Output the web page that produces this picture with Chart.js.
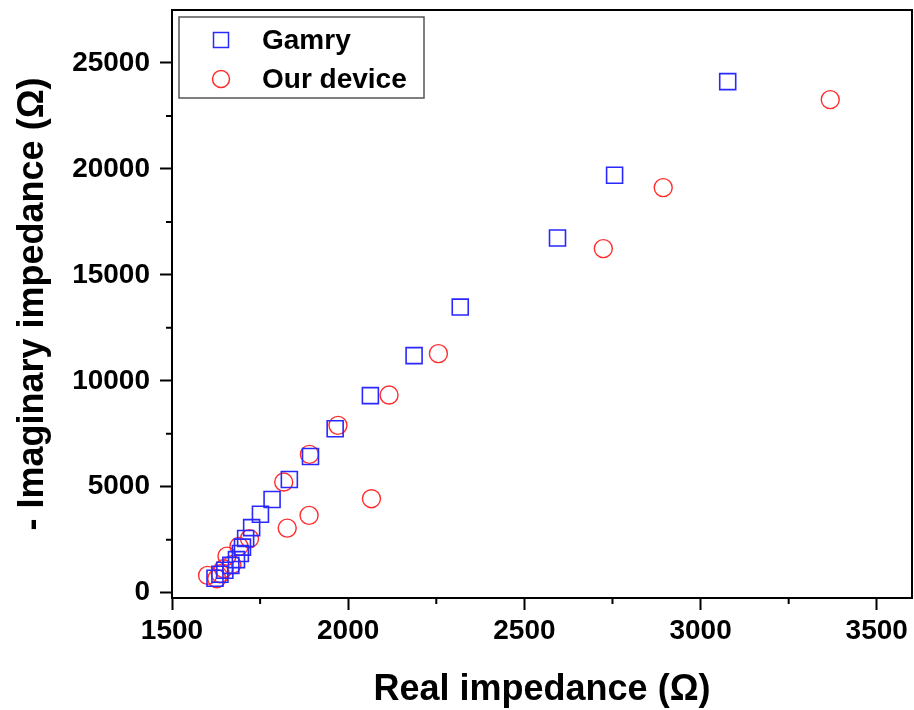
<!DOCTYPE html>
<html>
<head>
<meta charset="utf-8">
<script src="https://cdn.jsdelivr.net/npm/chart.js@4.4.1/dist/chart.umd.min.js"></script>
<style>
  html, body { margin: 0; padding: 0; background: #fff; }
  canvas { display: block; }
</style>
</head>
<body>
<canvas id="myChart" width="914" height="710"></canvas>
<script>
// values
const seriesNames = ["Gamry", "Our device"];
const gamryReal = [1622, 1636, 1650, 1667, 1683, 1694, 1700, 1709, 1726, 1751, 1784, 1833, 1893, 1963, 2063, 2187, 2318, 2594, 2756, 3077];
const gamryImag = [680, 870, 1060, 1290, 1560, 1850, 2150, 2560, 3070, 3700, 4400, 5340, 6430, 7740, 9300, 11190, 13480, 16740, 19700, 24120];
const deviceReal = [1601, 1627, 1637, 1646, 1656, 1670, 1690, 1720, 1817, 1827, 1889, 1890, 1971, 2066, 2116, 2256, 2724, 2894, 3368];
const deviceImag = [817, 661, 897, 1133, 1728, 1322, 2186, 2549, 5221, 3049, 3649, 6528, 7897, 4437, 9328, 11282, 16239, 19118, 23272];
const xTicks = [1500, 2000, 2500, 3000, 3500];
const yTicks = [0, 5000, 10000, 15000, 20000, 25000];

const font = "'Liberation Sans', Arial, sans-serif";
const blue = "rgb(40, 40, 255)";
const red = "rgb(255, 45, 45)";

function toPoints(xs, ys) {
  return xs.map((x, i) => ({ x: x, y: ys[i] }));
}

function midpoints(ticks) {
  const out = [];
  for (let i = 0; i < ticks.length; i++) {
    out.push(ticks[i] + (ticks[1] - ticks[0]) / 2);
  }
  return out;
}

// frame round the plot, minor ticks and the boxed legend
const framePlugin = {
  id: "frame",
  afterDraw(chart) {
    const ctx = chart.ctx;
    const a = chart.chartArea;
    const xs = chart.scales.x;
    const ys = chart.scales.y;
    ctx.save();
    ctx.strokeStyle = "#000";
    ctx.lineWidth = 2;
    ctx.strokeRect(a.left, a.top, a.right - a.left, a.bottom - a.top);

    ctx.beginPath();
    midpoints(xTicks).forEach((v) => {
      const px = xs.getPixelForValue(v);
      if (px < a.right - 2) {
        ctx.moveTo(px, a.bottom);
        ctx.lineTo(px, a.bottom + 6);
      }
    });
    midpoints(yTicks).forEach((v) => {
      const py = ys.getPixelForValue(v);
      if (py > a.top + 2) {
        ctx.moveTo(a.left, py);
        ctx.lineTo(a.left - 6, py);
      }
    });
    ctx.stroke();

    // legend
    const box = { x: 179, y: 17, w: 245, h: 81 };
    ctx.fillStyle = "#fff";
    ctx.fillRect(box.x, box.y, box.w, box.h);
    ctx.strokeStyle = "#555";
    ctx.lineWidth = 1.5;
    ctx.strokeRect(box.x, box.y, box.w, box.h);
    ctx.font = "bold 28px " + font;
    ctx.textBaseline = "middle";
    ctx.textAlign = "left";
    chart.data.datasets.forEach((ds, i) => {
      const cy = 40 + i * 39;
      const cx = 221;
      ctx.strokeStyle = ds.borderColor;
      ctx.lineWidth = 1.5;
      ctx.beginPath();
      if (ds.pointStyle === "rect") {
        ctx.rect(cx - 7.5, cy - 7.5, 15, 15);
      } else {
        ctx.arc(cx, cy, 8.5, 0, Math.PI * 2);
      }
      ctx.stroke();
      ctx.fillStyle = "#000";
      ctx.fillText(ds.label, 262, cy + 1);
    });
    ctx.restore();
  },
};

const config = {
  type: "scatter",
  data: {
    datasets: [
      {
        label: seriesNames[0],
        data: toPoints(gamryReal, gamryImag),
        pointStyle: "rect",
        pointRadius: 11.3,
        pointHoverRadius: 11.3,
        borderColor: blue,
        backgroundColor: "rgba(0,0,0,0)",
        borderWidth: 1.6,
      },
      {
        label: seriesNames[1],
        data: toPoints(deviceReal, deviceImag),
        pointStyle: "circle",
        pointRadius: 9,
        pointHoverRadius: 9,
        borderColor: red,
        backgroundColor: "rgba(0,0,0,0)",
        borderWidth: 1.4,
      },
    ],
  },
  options: {
    responsive: false,
    animation: false,
    events: [],
    layout: { autoPadding: false, padding: { top: 10, right: 2, left: 0, bottom: 0 } },
    plugins: {
      legend: { display: false },
      tooltip: { enabled: false },
    },
    scales: {
      x: {
        type: "linear",
        min: 1500,
        max: 3600,
        afterBuildTicks: (scale) => {
          scale.ticks = xTicks.map((v) => ({ value: v }));
        },
        afterFit: (scale) => {
          scale.height = 112;
          scale.paddingLeft = 0;
          scale.paddingRight = 0;
        },
        grid: { drawOnChartArea: false, tickLength: 12, tickColor: "#000", tickWidth: 2 },
        border: { color: "#000", width: 2 },
        ticks: {
          color: "#000",
          padding: 4,
          autoSkip: false,
          maxRotation: 0,
          callback: (v) => String(v),
          font: { family: font, size: 28, weight: "bold" },
        },
        title: {
          display: true,
          text: "Real impedance (Ω)",
          color: "#000",
          font: { family: font, size: 36, weight: "bold", lineHeight: 1 },
          padding: { top: 0, bottom: 2 },
        },
      },
      y: {
        type: "linear",
        min: -250,
        max: 27500,
        afterBuildTicks: (scale) => {
          scale.ticks = yTicks.map((v) => ({ value: v }));
        },
        afterFit: (scale) => {
          scale.width = 172;
          scale.paddingTop = 0;
          scale.paddingBottom = 0;
        },
        grid: { drawOnChartArea: false, tickLength: 12, tickColor: "#000", tickWidth: 2 },
        border: { color: "#000", width: 2 },
        ticks: {
          color: "#000",
          padding: 10,
          autoSkip: false,
          callback: (v) => String(v),
          font: { family: font, size: 28, weight: "bold" },
        },
        title: {
          display: true,
          text: "- Imaginary impedance (Ω)",
          color: "#000",
          font: { family: font, size: 36, weight: "bold", lineHeight: 1 },
          padding: { top: 15, bottom: 0 },
        },
      },
    },
  },
  plugins: [framePlugin],
};

const myChart = new Chart(document.getElementById("myChart"), config);
</script>
</body>
</html>
